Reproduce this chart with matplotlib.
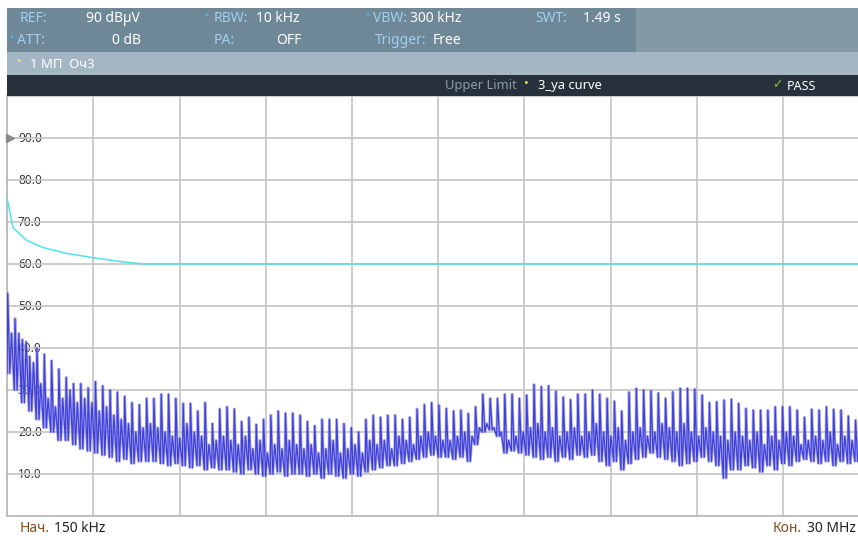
import numpy as np
import matplotlib
matplotlib.use("Agg")
import matplotlib.pyplot as plt
from matplotlib.patches import Rectangle
from matplotlib.transforms import blended_transform_factory

plt.rcParams['font.family'] = ['Noto Sans', 'DejaVu Sans']

# ---------------- data ----------------
f_start_mhz = 0.15
f_stop_mhz = 30.0
ref_level = 90
y_ticks = [10, 20, 30, 40, 50, 60, 70, 80, 90]
y_tick_labels = ["10.0", "20.0", "30.0", "40.0", "50.0", "60.0", "70.0", "80.0", "90.0"]

# upper limit line (MHz, dBuV)
limit_freq = [0.15, 0.36, 0.84, 1.40, 2.23, 3.13, 4.06, 4.86, 30.0]
limit_db = [75.8, 68.6, 65.6, 63.9, 62.5, 61.5, 60.6, 60.0, 60.0]

# measured trace: main spikes, troughs, secondary spikes (dBuV)
peaks = [53, 47, 42, 38, 40, 38.5, 37, 35, 33, 31.5,
         31.5, 30.5, 32, 31, 30, 29.5, 28.5, 27, 26.5, 28,
         28, 29, 29, 28, 26.8, 26.8, 25, 27, 22, 25.5,
         26, 25.5, 22.5, 23.5, 21.8, 23, 24, 25, 24.5, 24.5,
         24, 22.5, 21.5, 23, 23, 23, 22, 21, 20, 23,
         24, 23.5, 24, 24, 23, 23.5, 25.5, 26.5, 27, 26.4,
         25.6, 25, 25.2, 24.4, 26, 29, 28, 28, 29, 29,
         28, 28.8, 31.3, 30.8, 31, 29.7, 28.3, 27.7, 29, 29,
         30, 29, 28, 27.3, 25, 29.5, 30.4, 30, 29.8, 29.3,
         28, 29.6, 30.4, 30.4, 30.2, 28.8, 27, 27.2, 27.6, 27.8,
         26.8, 25.6, 25.2, 25.2, 25.2, 26, 26, 26, 25.2, 23.5,
         25.4, 25.2, 26, 25.4, 25.2, 23.8, 22.8, 24.6]
lows = [34, 30, 27, 25, 23, 21, 20, 18, 18, 17,
        16, 15.5, 15, 14.5, 14, 13, 13.5, 12.5, 13, 13,
        13, 12.5, 12, 12.5, 12, 11.5, 12, 11, 11.5, 11,
        11, 10.5, 10, 11, 10, 9.5, 10, 10.5, 9.5, 10,
        10, 9.5, 10, 9, 10, 9.5, 9, 10, 9.5, 10.5,
        11, 11.5, 12, 12, 12.5, 13, 13.5, 14, 14.5, 14,
        14, 13.5, 14, 13, 17, 20, 20.5, 19, 15, 15.5,
        15, 14.5, 14, 13.5, 14, 13, 14, 13.5, 14.5, 14,
        14.5, 13, 12, 13, 11, 12.5, 13.5, 14, 15, 14,
        13.5, 13, 12, 12.5, 13, 14, 13, 12, 9, 11,
        11, 12, 11.5, 10.5, 12, 11, 12.5, 12, 13, 13.5,
        13, 12.5, 13, 12, 13, 12.5, 13, 12]
mids = [43.5, 43.5, 41.5, 36.5, 31.5, 28, 26, 28, 30, 27,
        28, 27, 25, 26, 24, 23, 22, 20, 21, 22,
        21, 20, 19, 18.5, 22, 20, 19, 17, 18, 19,
        18, 17, 19, 16, 18, 15, 17, 16, 18, 17,
        16, 17, 15, 16, 18, 15, 16, 17, 15, 18,
        17, 18, 16, 19, 18, 17, 19, 20, 19, 18,
        18, 19, 20, 19, 21, 22, 21, 20, 18, 19,
        20, 21, 22, 20, 21, 19, 20, 21, 19, 20,
        22, 20, 19, 21, 18, 20, 21, 19, 20, 22,
        21, 20, 22, 20, 19, 21, 20, 19, 18, 20,
        19, 18, 20, 17, 19, 18, 20, 19, 17, 18,
        19, 18, 20, 17, 19, 18, 17, 18]

# ---------------- figure ----------------
W, H = 858, 540
fig = plt.figure(figsize=(W / 100, H / 100), dpi=100)
fig.patch.set_facecolor("white")


def fx(x):
    return x / W


def fy(y):
    return 1 - y / H


def rect(x0, y0, x1, y1, color):
    fig.patches.append(Rectangle((fx(x0), fy(y1)), fx(x1) - fx(x0), fy(y0) - fy(y1),
                                 transform=fig.transFigure, facecolor=color,
                                 edgecolor="none", zorder=0))


def txt(x, y, s, color="white", size=10, ha="left", **kw):
    fig.text(fx(x), fy(y), s, color=color, fontsize=size, ha=ha, va="center", **kw)


# header bars
rect(7, 8, 636, 52, "#6f8897")
rect(636, 8, W, 52, "#8499a6")
rect(7, 52, W, 75, "#a4b6c3")
rect(7, 75, W, 96, "#26313b")

lab = "#9fd0ee"
dot = "#4fb3f0"
txt(20, 18, "REF:", lab)
txt(86, 18, "90 dBµV")
txt(204, 16, "•", dot, size=8)
txt(214, 18, "RBW:", lab)
txt(256, 18, "10 kHz")
txt(365, 16, "•", dot, size=8)
txt(373, 18, "VBW:", lab)
txt(410, 18, "300 kHz")
txt(535, 18, "SWT:", lab)
txt(583, 18, "1.49 s")
txt(9, 39, "•", dot, size=8)
txt(17, 41, "ATT:", lab)
txt(141, 41, "0 dB", ha="right")
txt(214, 41, "PA:", lab)
txt(276, 41, "OFF")
txt(375, 41, "Trigger:", lab)
txt(433, 41, "Free")
txt(17, 62, "•", "#f4e04a", size=9)
txt(30, 64, "1 МП  Оч3", "white", size=9.5)
txt(445, 86, "Upper Limit", "#8c9aa5", size=9.3)
txt(524, 84, "•", "#f4e04a", size=9)
txt(538, 86, "3_ya curve", "white", size=9.3)
txt(772, 85, "✓", "#7fbf3f", size=9, family=['DejaVu Sans'])
txt(787, 86, "PASS", "white", size=9)

# bottom labels
txt(20, 529, "Нач.", "#8a4b1c", size=10)
txt(54, 529, "150 kHz", "#222222", size=10)
txt(802, 529, "Кон.", "#8a4b1c", size=10, ha="right")
txt(856, 529, "30 MHz", "#222222", size=10, ha="right")

# ---------------- plot area ----------------
left_px, right_px, top_px, bot_px = 7, 869.5, 96, 516
ax = fig.add_axes([fx(left_px), fy(bot_px), (right_px - left_px) / W, (bot_px - top_px) / H])
ax.set_facecolor("white")
ax.set_xlim(f_start_mhz, f_stop_mhz)
ax.set_ylim(0, 100)
ax.set_xticks(np.linspace(f_start_mhz, f_stop_mhz, 11))
ax.set_yticks(np.arange(0, 101, 10))
ax.grid(True, color="#c4c4c4", lw=1.2)
ax.tick_params(length=0, labelbottom=False, labelleft=False)
for s in ax.spines.values():
    s.set_color("#b8b8b8")
    s.set_linewidth(1.2)
ax.spines["top"].set_visible(False)

tr = blended_transform_factory(ax.transAxes, ax.transData)
for v, l in zip(y_ticks, y_tick_labels):
    ax.text(11 / (right_px - left_px), v, l, transform=tr, fontsize=8.5,
            color="#333333", va="center", ha="left", zorder=1)
ax.plot([0.004], [ref_level], marker=">", color="#8a8a8a", ms=6,
        transform=tr, clip_on=False, zorder=3)

# limit line
ax.plot(limit_freq, limit_db, color="#4ee3e6", lw=1.1, zorder=4)

# trace: steep-rise spike, fall to trough, secondary spike
n = len(peaks)
centers = np.linspace(f_start_mhz, f_stop_mhz, n + 1)[:n]
d = centers[1] - centers[0]
offs = np.array([0.0, 0.1, 0.38, 0.62])
xs = (centers[:, None] + offs[None, :] * d).ravel()
P, L, M = np.array(peaks), np.array(lows), np.array(mids)
ys = np.column_stack([L, P, L, M]).ravel()
ax.plot(xs, ys, color="#8a8aef", lw=2.0, alpha=0.7, zorder=5)
ax.plot(xs, ys, color="#2626d2", lw=0.9, alpha=0.8, zorder=6)

fig.savefig("out.png", dpi=100, facecolor="white")
